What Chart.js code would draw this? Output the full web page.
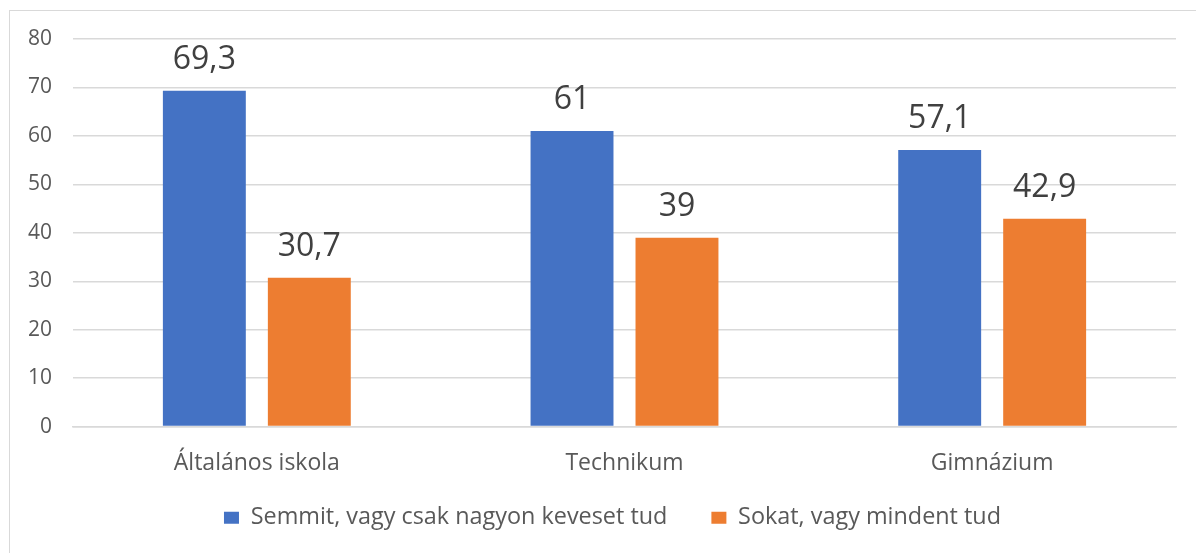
<!DOCTYPE html>
<html>
<head>
<meta charset="utf-8">
<script src="https://cdn.jsdelivr.net/npm/chart.js@4/dist/chart.umd.min.js"></script>
<style>
  html, body { margin: 0; padding: 0; background: #fff; }
  #wrap { position: relative; width: 1196px; height: 553px; overflow: hidden; }
  #frame { position: absolute; left: 9px; top: 10px; width: 1300px; height: 700px;
           border: 1.5px solid #d9d9d9; box-sizing: border-box; pointer-events: none; }
</style>
</head>
<body>
<div id="wrap">
  <canvas id="chart" width="1196" height="553"></canvas>
  <div id="frame"></div>
</div>
<script>
  // Chart data
  const categories = ["Általános iskola", "Technikum", "Gimnázium"];
  const seriesNames = ["Semmit, vagy csak nagyon keveset tud", "Sokat, vagy mindent tud"];
  const lowValues = [69.3, 61, 57.1];
  const highValues = [30.7, 39, 42.9];
  const yTicks = [0, 10, 20, 30, 40, 50, 60, 70, 80];

  const FONT = "'Open Sans', sans-serif";

  // Value labels above each bar (comma decimal)
  const valueLabels = {
    id: "valueLabels",
    afterDatasetsDraw(chart) {
      const ctx = chart.ctx;
      ctx.save();
      ctx.font = "32px " + FONT;
      ctx.fillStyle = "#404040";
      ctx.textAlign = "center";
      ctx.textBaseline = "alphabetic";
      chart.data.datasets.forEach((ds, i) => {
        chart.getDatasetMeta(i).data.forEach((bar, j) => {
          const txt = String(ds.data[j]).replace(".", ",");
          ctx.fillText(txt, bar.x, bar.y - 22);
        });
      });
      ctx.restore();
    }
  };

  // legend sits a bit closer to the axis labels than its padding allows
  const legendNudge = {
    id: "legendNudge",
    afterLayout(chart) {
      const lg = chart.legend;
      const dy = 462 - lg.top;
      lg.top += dy; lg.bottom += dy;
      lg.left -= 12; lg.right -= 12;
    }
  };

  new Chart(document.getElementById("chart").getContext("2d"), {
    type: "bar",
    data: {
      labels: categories,
      datasets: [
        {
          label: seriesNames[0],
          data: lowValues,
          backgroundColor: "#4472C4",
          categoryPercentage: 0.571,
          barPercentage: 0.79
        },
        {
          label: seriesNames[1],
          data: highValues,
          backgroundColor: "#ED7D31",
          categoryPercentage: 0.571,
          barPercentage: 0.79
        }
      ]
    },
    options: {
      responsive: false,
      animation: false,
      layout: { padding: { left: 9, top: 39, right: 20, bottom: 0 } },
      scales: {
        x: {
          grid: { display: false },
          border: { color: "#d9d9d9", width: 1.5 },
          ticks: { color: "#595959", font: { family: FONT, size: 23 }, padding: 15 },
          afterFit(scale) { scale.height = 49; }
        },
        y: {
          min: 0,
          max: 80,
          afterBuildTicks(scale) { scale.ticks = yTicks.map(v => ({ value: v })); },
          grid: { color: "#d9d9d9", lineWidth: 1.5, drawTicks: false },
          border: { display: false },
          ticks: { color: "#595959", font: { family: FONT, size: 21 }, padding: 21 },
          afterFit(scale) { scale.width = 64; }
        }
      },
      plugins: {
        legend: {
          position: "bottom",
          fullSize: false,
          maxHeight: 78,
          labels: {
            boxWidth: 15,
            boxHeight: 12,
            padding: 44,
            color: "#595959",
            font: { family: FONT, size: 23.4 }
          }
        },
        tooltip: { enabled: false }
      }
    },
    plugins: [valueLabels, legendNudge]
  });
</script>
</body>
</html>
